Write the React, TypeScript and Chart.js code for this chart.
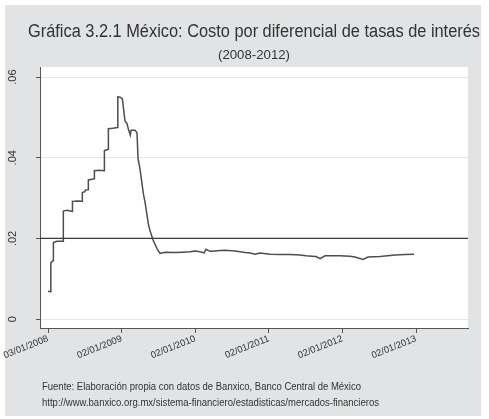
import React, { useEffect, useRef } from "react";
import { Chart, registerables } from "chart.js";

Chart.register(...registerables);

const TITLE = "Gráfica 3.2.1 México: Costo por diferencial de tasas de interés";
const SUBTITLE = "(2008-2012)";
const FOOTNOTES = [
  "Fuente: Elaboración propia con datos de Banxico, Banco Central de México",
  "http://www.banxico.org.mx/sistema-financiero/estadisticas/mercados-financieros",
];

// x positions as fractional years (2008.0 = 03/01/2008)
const X_TICKS = [2008, 2009, 2010, 2011, 2012, 2013];
const X_TICK_LABELS = ["03/01/2008", "02/01/2009", "02/01/2010", "02/01/2011", "02/01/2012", "02/01/2013"];
const X_MIN = 2007.891;
const X_MAX = 2013.706;

const Y_TICKS = [0, 0.02, 0.04, 0.06];
const Y_TICK_LABELS = ["0", ".02", ".04", ".06"];
const Y_MIN = -0.0022;
const Y_MAX = 0.0625;

const REF_LEVEL = 0.02;

const DATES = [
  2008.0, 2008.036, 2008.038, 2008.07, 2008.073, 2008.12, 2008.205, 2008.208, 2008.26, 2008.33,
  2008.332, 2008.4, 2008.463, 2008.466, 2008.5, 2008.51, 2008.545, 2008.548, 2008.6, 2008.627,
  2008.63, 2008.7, 2008.763, 2008.766, 2008.8, 2008.817, 2008.82, 2008.88, 2008.945, 2008.948,
  2008.98, 2009.01, 2009.046, 2009.073, 2009.096, 2009.118, 2009.128, 2009.182, 2009.209, 2009.223,
  2009.25, 2009.295, 2009.318, 2009.363, 2009.386, 2009.427, 2009.48, 2009.522, 2009.59, 2009.726,
  2009.834, 2009.929, 2009.997, 2010.065, 2010.12, 2010.147, 2010.201, 2010.269, 2010.337, 2010.405,
  2010.541, 2010.677, 2010.745, 2010.813, 2010.88, 2011.016, 2011.152, 2011.288, 2011.424, 2011.505,
  2011.587, 2011.641, 2011.696, 2011.764, 2011.967, 2012.103, 2012.171, 2012.28, 2012.348, 2012.511,
  2012.715, 2012.851, 2012.973,
];
const VALUES = [
  0.0069, 0.0068, 0.014, 0.0145, 0.019, 0.0193, 0.0193, 0.0268, 0.027, 0.0267,
  0.0292, 0.0293, 0.0292, 0.0314, 0.0316, 0.032, 0.0321, 0.0345, 0.0347, 0.0348,
  0.0368, 0.0369, 0.0368, 0.0418, 0.042, 0.0421, 0.0472, 0.0473, 0.0475, 0.0551,
  0.055, 0.0546, 0.0491, 0.0485, 0.0468, 0.0456, 0.0468, 0.0468, 0.0462, 0.0398,
  0.0372, 0.0311, 0.029, 0.0236, 0.0219, 0.0196, 0.0175, 0.0163, 0.0166, 0.0165,
  0.0166, 0.0167, 0.0169, 0.0167, 0.0164, 0.0173, 0.0168, 0.0169, 0.017, 0.0171,
  0.0169, 0.0165, 0.0164, 0.0161, 0.0164, 0.0161, 0.016, 0.016, 0.0159, 0.0157,
  0.0156, 0.0155, 0.015, 0.0157, 0.0157, 0.0156, 0.0154, 0.0148, 0.0154, 0.0155,
  0.0159, 0.016, 0.0161,
];

const FONT = "'Liberation Sans', Arial, sans-serif";

function drawFitted(ctx: any, text: string, x: number, y: number, width: number) {
  const w = ctx.measureText(text).width;
  const k = w > 0 ? width / w : 1;
  ctx.save();
  ctx.translate(x, y);
  ctx.scale(k, 1);
  ctx.textAlign = "left";
  ctx.fillText(text, 0, 0);
  ctx.restore();
}

const decorPlugin = {
  id: "decor",
  beforeDraw(chart: any) {
    const { ctx, chartArea } = chart;
    ctx.save();
    ctx.fillStyle = "#ffffff";
    ctx.fillRect(0, 0, chart.width, chart.height);
    ctx.fillStyle = "#e2e3e5";
    ctx.fillRect(5, 5, 476, 411);
    ctx.fillStyle = "#ffffff";
    ctx.fillRect(chartArea.left, chartArea.top, chartArea.right - chartArea.left, chartArea.bottom - chartArea.top);
    ctx.restore();
  },
  afterDraw(chart: any) {
    const { ctx } = chart;
    const yScale = chart.scales.y;
    ctx.save();
    ctx.fillStyle = "#333333";
    ctx.textBaseline = "alphabetic";
    ctx.font = `18px ${FONT}`;
    drawFitted(ctx, TITLE, 28, 37, 452);
    ctx.font = `12.5px ${FONT}`;
    ctx.textBaseline = "middle";
    drawFitted(ctx, SUBTITLE, 218, 56, 72);
    ctx.textBaseline = "alphabetic";
    ctx.font = `10px ${FONT}`;
    drawFitted(ctx, FOOTNOTES[0], 42, 390, 319);
    drawFitted(ctx, FOOTNOTES[1], 42, 406, 337);
    ctx.font = `11px ${FONT}`;
    ctx.textAlign = "center";
    ctx.textBaseline = "middle";
    Y_TICKS.forEach((v, i) => {
      const py = yScale.getPixelForValue(v);
      ctx.save();
      ctx.translate(13, py);
      ctx.rotate(-Math.PI / 2);
      ctx.fillText(Y_TICK_LABELS[i], 0, 0);
      ctx.restore();
    });
    ctx.restore();
  },
};

export default function App() {
  const ref = useRef<HTMLCanvasElement | null>(null);
  useEffect(() => {
    if (!ref.current) return;
    const series = DATES.map((d, i) => ({ x: d, y: VALUES[i] }));
    const refLine = [
      { x: X_MIN, y: REF_LEVEL },
      { x: X_MAX, y: REF_LEVEL },
    ];
    const chart = new Chart(ref.current, {
      type: "line",
      data: {
        datasets: [
          {
            data: refLine,
            borderColor: "#3a3a3a",
            borderWidth: 1.3,
            pointRadius: 0,
            tension: 0,
          },
          {
            data: series,
            borderColor: "#4d4d4d",
            borderWidth: 1.5,
            pointRadius: 0,
            tension: 0,
          },
        ],
      },
      options: {
        responsive: false,
        animation: false,
        layout: { padding: { left: 8, right: 21, top: 67, bottom: 0 } },
        plugins: {
          legend: { display: false },
          tooltip: { enabled: false },
          title: { display: false },
        },
        scales: {
          x: {
            type: "linear",
            min: X_MIN,
            max: X_MAX,
            afterBuildTicks: (s: any) => {
              s.ticks = X_TICKS.map((v) => ({ value: v }));
            },
            afterFit: (s: any) => {
              s.height = 91;
            },
            ticks: {
              minRotation: 22,
              maxRotation: 22,
              autoSkip: false,
              padding: 0,
              color: "#333333",
              font: { family: FONT, size: 9.5 },
              callback: (v: any) => {
                const i = X_TICKS.indexOf(Number(v));
                return i >= 0 ? X_TICK_LABELS[i] : "";
              },
            },
            grid: {
              drawOnChartArea: false,
              drawTicks: true,
              tickLength: 5,
              tickColor: "#555555",
              color: "#555555",
            },
            border: { color: "#555555", width: 1 },
          },
          y: {
            type: "linear",
            min: Y_MIN,
            max: Y_MAX,
            afterBuildTicks: (s: any) => {
              s.ticks = Y_TICKS.map((v) => ({ value: v }));
            },
            afterFit: (s: any) => {
              s.width = 32;
            },
            ticks: { display: false },
            grid: {
              color: "#e6e6e6",
              lineWidth: 1,
              drawTicks: true,
              tickLength: 4,
              tickColor: "#555555",
            },
            border: { color: "#555555", width: 1 },
          },
        },
      },
      plugins: [decorPlugin],
    });
    return () => chart.destroy();
  }, []);
  return (
    <div style={{ position: "absolute", left: 0, top: 0, width: 489, height: 419 }}>
      <canvas ref={ref} width={489} height={419} style={{ width: 489, height: 419 }} />
    </div>
  );
}
